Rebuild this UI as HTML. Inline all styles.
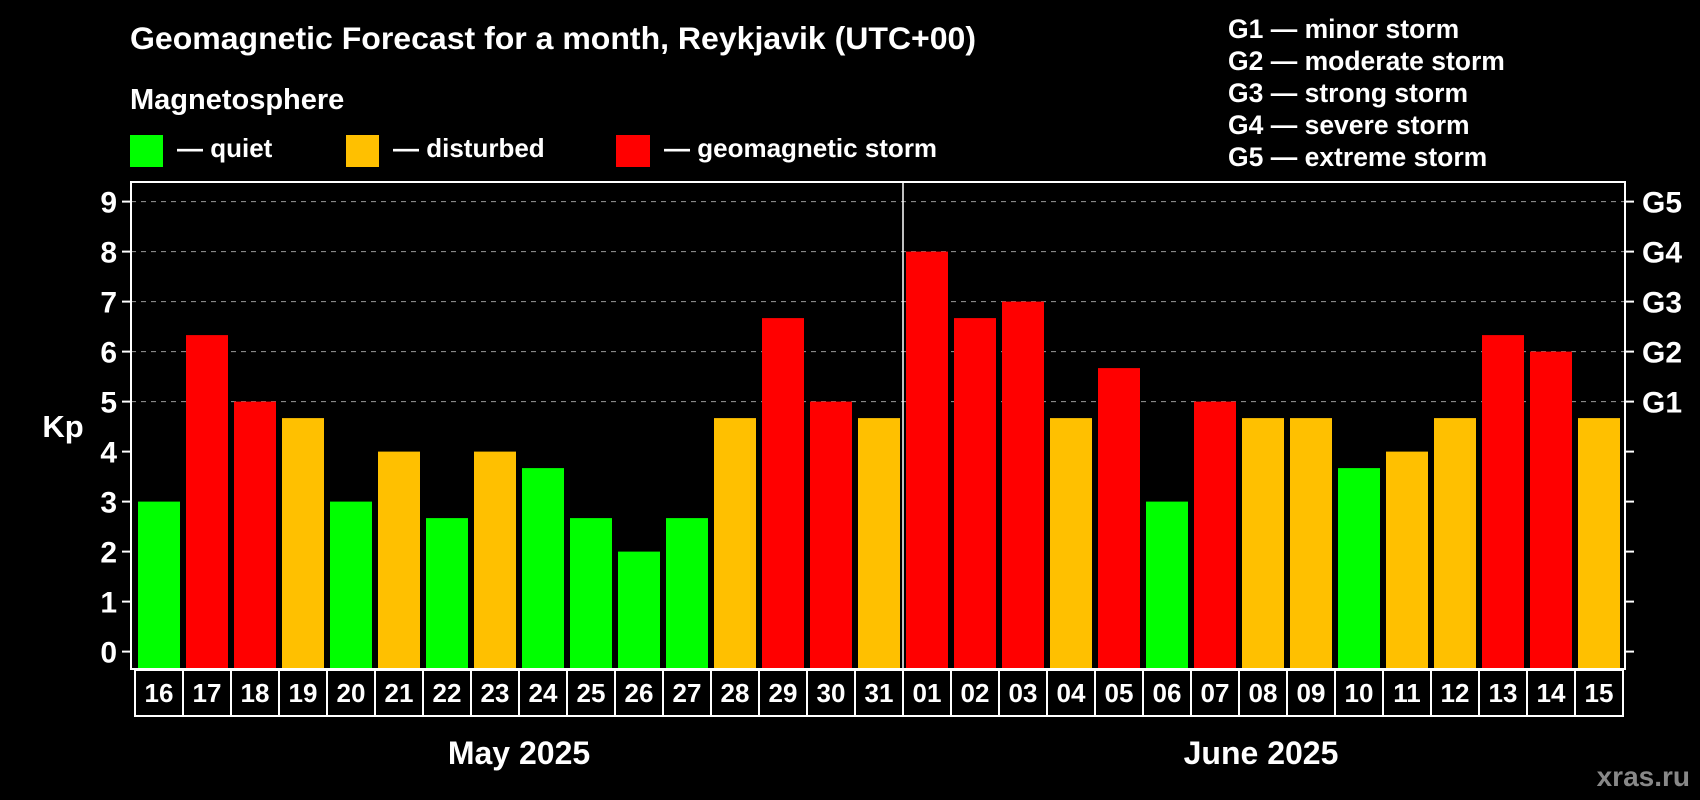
<!DOCTYPE html>
<html><head><meta charset="utf-8"><style>
html,body{margin:0;padding:0;background:#000;}
svg{display:block;font-family:"Liberation Sans",Arial,sans-serif;font-weight:bold;}
</style></head><body>
<svg id="chart" width="1700" height="800" viewBox="0 0 1700 800">
<rect x="0" y="0" width="1700" height="800" fill="#000"/>
<text x="130" y="49" fill="#fff" font-size="31.5" textLength="846" lengthAdjust="spacingAndGlyphs">Geomagnetic Forecast for a month, Reykjavik (UTC+00)</text>
<text x="130" y="109" fill="#fff" font-size="29">Magnetosphere</text>
<g>
<rect x="130" y="135" width="33" height="32" fill="#00ff00"/>
<text x="177" y="157" fill="#fff" font-size="26">— quiet</text>
<rect x="346" y="135" width="33" height="32" fill="#ffc000"/>
<text x="393" y="157" fill="#fff" font-size="26">— disturbed</text>
<rect x="616" y="135" width="34" height="32" fill="#ff0000"/>
<text x="664" y="157" fill="#fff" font-size="26">— geomagnetic storm</text>
</g>
<g font-size="26.5" fill="#fff">
<text x="1228" y="38">G1 — minor storm</text>
<text x="1228" y="70">G2 — moderate storm</text>
<text x="1228" y="102">G3 — strong storm</text>
<text x="1228" y="134">G4 — severe storm</text>
<text x="1228" y="166">G5 — extreme storm</text>
</g>
<text x="63" y="437" fill="#fff" font-size="31" text-anchor="middle">Kp</text>
<g id="plot"></g>
<text x="519" y="764" fill="#fff" font-size="32" text-anchor="middle">May 2025</text>
<text x="1261" y="764" fill="#fff" font-size="32" text-anchor="middle">June 2025</text>
<text x="1690" y="786" fill="#888" font-size="28" text-anchor="end">xras.ru</text>
</svg>
<script>
const days = ["16","17","18","19","20","21","22","23","24","25","26","27","28","29","30","31","01","02","03","04","05","06","07","08","09","10","11","12","13","14","15"];
const kpValues = [3,6.33,5,4.67,3,4,2.67,4,3.67,2.67,2,2.67,4.67,6.67,5,4.67,8,6.67,7,4.67,5.67,3,5,4.67,4.67,3.67,4,4.67,6.33,6,4.67];
const yTicks = [0,1,2,3,4,5,6,7,8,9];
const gLabels = ["G1","G2","G3","G4","G5"];
const gLevels = [5,6,7,8,9];
const gridLevels = [5,6,7,8,9];
const monthSplitIndex = 16;

const NS = "http://www.w3.org/2000/svg";
const g = document.getElementById("plot");
const plotL = 131, plotR = 1625, plotT = 182, plotB = 669;
const barStart = 138, pitch = 48, barW = 42;
function yScale(v){ return 651.6 - v * 50; }
function xScale(i){ return barStart + i * pitch; }
function colorFor(v){ return v >= 5 ? "#ff0000" : (v >= 4 ? "#ffc000" : "#00ff00"); }
function mk(tag, attrs){ const e = document.createElementNS(NS, tag); for (const k in attrs) e.setAttribute(k, attrs[k]); g.appendChild(e); return e; }

gridLevels.forEach(v => {
  const l = mk("line", {x1: plotL, x2: plotR, y1: yScale(v), y2: yScale(v), stroke: "#999", "stroke-width": 1, "stroke-dasharray": "5,5"});
  
  
});
kpValues.forEach((v, i) => {
  const r = mk("rect", {x: xScale(i), y: yScale(v), width: barW, height: plotB - yScale(v), fill: colorFor(v)});
  
  
});
const sx = xScale(monthSplitIndex) - 3;
const dv = mk("line", {x1: sx, x2: sx, y1: plotT, y2: plotB, stroke: "#fff", "stroke-width": 1.5});


const frame = mk("rect", {x: plotL, y: plotT, width: plotR - plotL, height: plotB - plotT, fill: "none", stroke: "#fff", "stroke-width": 2});


yTicks.forEach(v => {
  const y = yScale(v);
  const t1 = mk("line", {x1: 122, x2: plotL, y1: y, y2: y, stroke: "#fff", "stroke-width": 2});
  
  
  const t2 = mk("line", {x1: plotR, x2: 1634, y1: y, y2: y, stroke: "#fff", "stroke-width": 2});
  
  
  const tx = mk("text", {x: 117, y: y + 11, fill: "#fff", "font-size": 30, "text-anchor": "end"});
  tx.textContent = String(v);
  
  
});
gLabels.forEach((lab, i) => {
  const tx = mk("text", {x: 1642, y: yScale(gLevels[i]) + 11, fill: "#fff", "font-size": 30});
  tx.textContent = lab;
  
  
});
days.forEach((d, i) => {
  const x = xScale(i) - 3;
  const b = mk("rect", {x: x, y: 670, width: pitch, height: 46, fill: "none", stroke: "#fff", "stroke-width": 2});
  
  
  const tx = mk("text", {x: x + pitch / 2, y: 702, fill: "#fff", "font-size": 26, "text-anchor": "middle"});
  tx.textContent = d;
  
  
});
</script>
</body></html>
